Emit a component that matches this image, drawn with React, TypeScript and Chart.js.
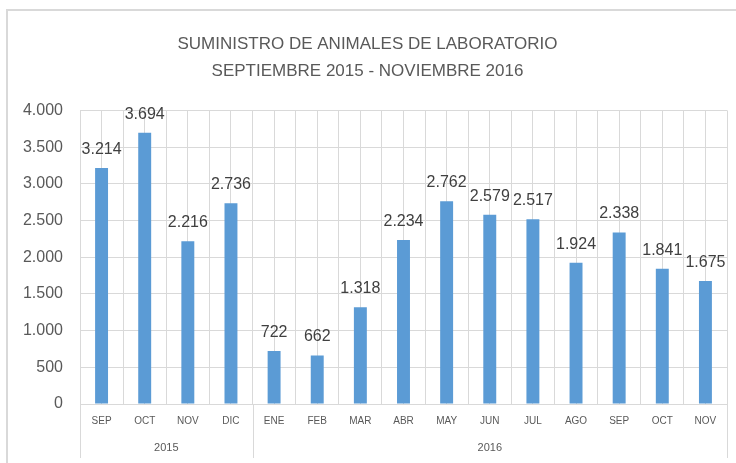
import React, { useEffect, useRef } from "react";
import { Chart, registerables } from "chart.js";

Chart.register(...registerables);

const titleLines = ["SUMINISTRO DE ANIMALES DE LABORATORIO", "SEPTIEMBRE 2015 - NOVIEMBRE 2016"];
const months = ["SEP", "OCT", "NOV", "DIC", "ENE", "FEB", "MAR", "ABR", "MAY", "JUN", "JUL", "AGO", "SEP", "OCT", "NOV"];
const values = [3214, 3694, 2216, 2736, 722, 662, 1318, 2234, 2762, 2579, 2517, 1924, 2338, 1841, 1675];
const yearLabels = ["2015", "2016"];
const yearSpans = [4, 11];
const yMin = 0;
const yMax = 4000;
const yStep = 500;

const FONT = '"Liberation Sans", Arial, sans-serif';
const GRID = "#d9d9d9";

const fmt = (v: number) => String(Math.round(v)).replace(/\B(?=(\d{3})+(?!\d))/g, ".");

const decorPlugin = {
  id: "decor",
  beforeDraw(chart: any) {
    const ctx = chart.ctx;
    ctx.save();
    ctx.fillStyle = "#ffffff";
    ctx.fillRect(0, 0, chart.width, chart.height);
    ctx.fillStyle = GRID;
    ctx.fillRect(6, 9, chart.width - 6, 2);
    ctx.fillRect(6, 9, 2, chart.height - 9);
    ctx.restore();
  },
  afterDatasetsDraw(chart: any) {
    const ctx = chart.ctx;
    const meta = chart.getDatasetMeta(0);
    ctx.save();
    ctx.font = `16px ${FONT}`;
    ctx.fillStyle = "#404040";
    ctx.textAlign = "center";
    ctx.textBaseline = "alphabetic";
    meta.data.forEach((bar: any, i: number) => {
      ctx.fillText(fmt(values[i]), bar.x, bar.y - 14);
    });
    ctx.restore();
  },
  afterDraw(chart: any) {
    const ctx = chart.ctx;
    const xs = chart.scales.x;
    const area = chart.chartArea;
    const half = (xs.getPixelForValue(1) - xs.getPixelForValue(0)) / 2;
    const top = area.bottom;
    const bottom = top + 54;
    ctx.save();
    ctx.strokeStyle = GRID;
    ctx.lineWidth = 1;
    let start = 0;
    const edges: number[] = [xs.getPixelForValue(0) - half];
    ctx.font = `11px ${FONT}`;
    ctx.fillStyle = "#595959";
    ctx.textAlign = "center";
    ctx.textBaseline = "middle";
    yearSpans.forEach((n, gi) => {
      const left = xs.getPixelForValue(start) - half;
      const right = xs.getPixelForValue(start + n - 1) + half;
      edges.push(right);
      ctx.fillText(yearLabels[gi], (left + right) / 2, top + 44);
      start += n;
    });
    edges.forEach((x) => {
      const px = Math.round(x) + 0.5;
      ctx.beginPath();
      ctx.moveTo(px, top);
      ctx.lineTo(px, bottom);
      ctx.stroke();
    });
    ctx.restore();
  },
};

export default function App() {
  const ref = useRef<HTMLCanvasElement | null>(null);
  useEffect(() => {
    if (!ref.current) return;
    const chart = new Chart(ref.current, {
      type: "bar",
      data: {
        labels: months,
        datasets: [
          {
            data: values,
            backgroundColor: "#5b9bd5",
            barPercentage: 0.6,
            categoryPercentage: 0.5,
            xAxisID: "x",
            yAxisID: "y",
          },
        ],
      },
      options: {
        animation: false,
        responsive: false,
        maintainAspectRatio: false,
        layout: { padding: { top: 10, left: 8, right: 9, bottom: 0 } },
        plugins: {
          legend: { display: false },
          tooltip: { enabled: false },
          title: {
            display: true,
            text: titleLines,
            color: "#595959",
            font: { family: FONT, size: 17, weight: "normal", lineHeight: 1.6 },
            padding: { top: 21, bottom: 25 },
          },
        },
        scales: {
          x: {
            type: "category",
            position: "bottom",
            offset: true,
            grid: { display: true, offset: true, color: GRID, drawTicks: false },
            border: { display: true, color: GRID },
            ticks: {
              color: "#595959",
              font: { family: FONT, size: 10 },
              padding: 11,
              autoSkip: false,
              maxRotation: 0,
            },
            afterFit: (s: any) => {
              s.height = 59;
            },
          },
          x2: {
            type: "category",
            position: "top",
            offset: true,
            grid: { display: true, offset: false, color: GRID, drawTicks: false },
            border: { display: false },
            ticks: { display: false },
            afterFit: (s: any) => {
              s.height = 0;
            },
          },
          y: {
            type: "linear",
            min: yMin,
            max: yMax,
            grid: { color: GRID, drawTicks: false },
            border: { display: false },
            ticks: {
              stepSize: yStep,
              color: "#595959",
              font: { family: FONT, size: 16 },
              padding: 17,
              callback: (v: any) => fmt(Number(v)),
            },
            afterFit: (s: any) => {
              s.width = 72;
            },
          },
        },
      },
      plugins: [decorPlugin],
    } as any);
    return () => chart.destroy();
  }, []);
  return (
    <div style={{ position: "fixed", left: 0, top: 0, width: 736, height: 463, background: "#fff" }}>
      <canvas ref={ref} width={736} height={463} style={{ width: 736, height: 463, display: "block" }} />
    </div>
  );
}
